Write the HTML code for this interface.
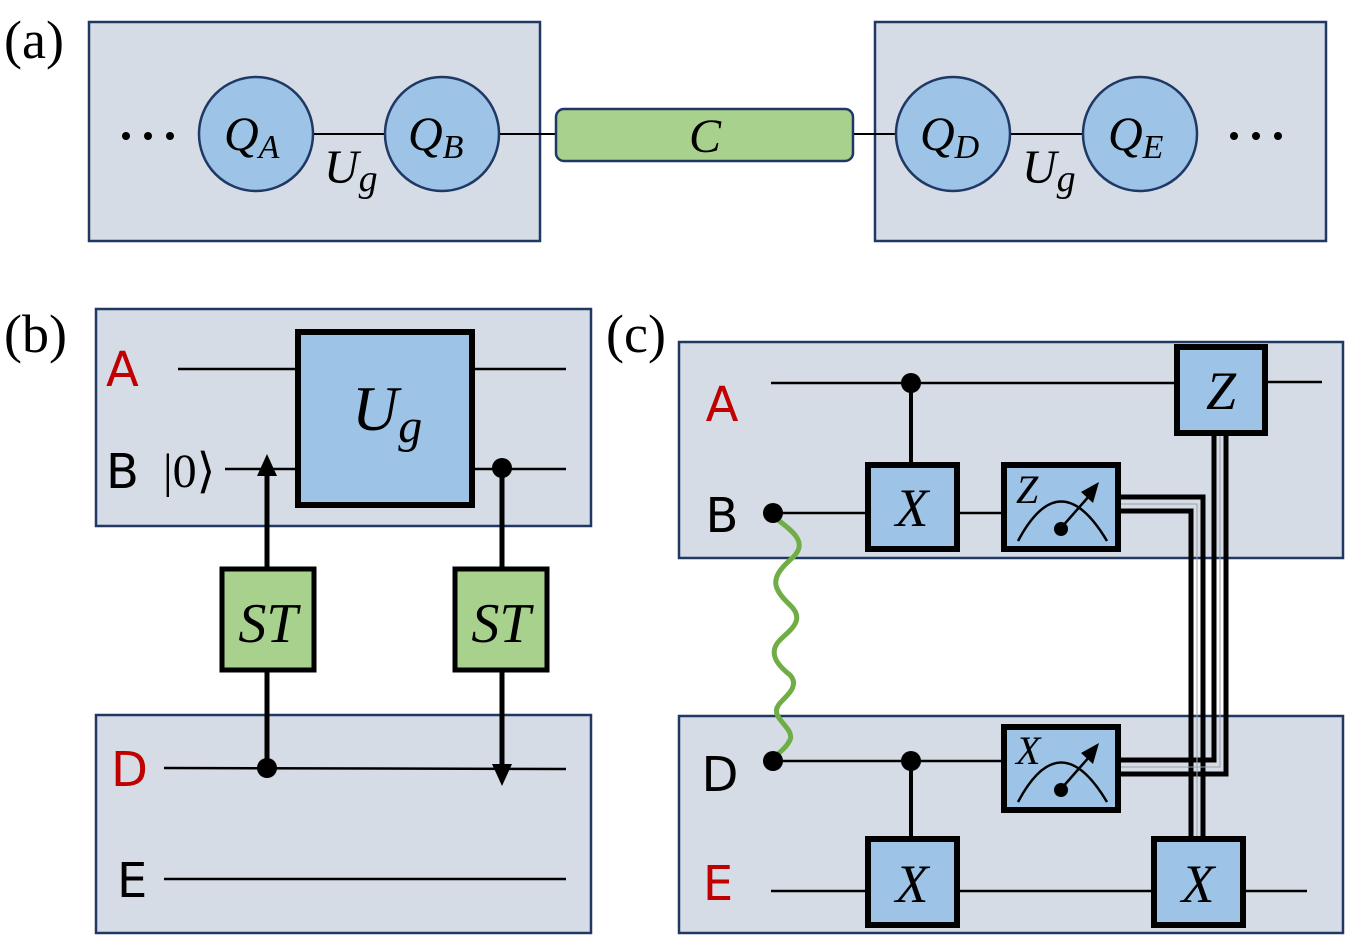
<!DOCTYPE html>
<html><head><meta charset="utf-8"><style>
html,body{margin:0;padding:0;background:#fff}
svg{display:block}
.m{font-family:"Liberation Serif",serif;font-style:italic}
.s{font-family:"DejaVu Sans","Liberation Sans",sans-serif}
</style></head><body>
<svg width="1353" height="944" viewBox="0 0 1353 944" xmlns="http://www.w3.org/2000/svg">
<g fill="#d6dce5" stroke="#1f3864" stroke-width="2.5">
<rect x="89" y="22" width="451" height="219"/>
<rect x="875" y="22" width="451" height="219"/>
<rect x="96" y="309" width="495" height="217"/>
<rect x="96" y="715" width="495" height="218"/>
<rect x="679" y="342" width="664" height="216"/>
<rect x="679" y="716" width="664" height="217"/>
</g>
<g font-family="Liberation Serif,serif" font-size="54">
<text x="4" y="58">(a)</text>
<text x="4" y="352">(b)</text>
<text x="606" y="352">(c)</text>
</g>
<!-- (a) -->
<g stroke="#000" stroke-width="2">
<line x1="313" y1="134" x2="385" y2="134"/>
<line x1="499" y1="134" x2="556" y2="134"/>
<line x1="853" y1="134" x2="897" y2="134"/>
<line x1="1010" y1="134" x2="1083" y2="134"/>
</g>
<rect x="556" y="109" width="297" height="52" rx="8" fill="#a9d18e" stroke="#1f3864" stroke-width="2.5"/>
<text x="705" y="152" class="m" font-size="48" text-anchor="middle">C</text>
<g fill="#9dc3e6" stroke="#1f3864" stroke-width="2.5">
<circle cx="256" cy="134" r="57"/><circle cx="442" cy="134" r="57"/>
<circle cx="953" cy="134" r="57"/><circle cx="1140" cy="134" r="57"/>
</g>
<g class="m" font-size="48">
<text x="224" y="150">Q<tspan font-size="34" dy="8">A</tspan></text>
<text x="408" y="150">Q<tspan font-size="34" dy="8">B</tspan></text>
<text x="920" y="150">Q<tspan font-size="34" dy="8">D</tspan></text>
<text x="1108" y="150">Q<tspan font-size="34" dy="8">E</tspan></text>
<text x="324" y="183">U<tspan font-size="38" dy="8">g</tspan></text>
<text x="1022" y="183">U<tspan font-size="38" dy="8">g</tspan></text>
</g>
<g fill="#000"><circle cx="126" cy="136" r="4"/><circle cx="148" cy="136" r="4"/><circle cx="170" cy="136" r="4"/>
<circle cx="1234" cy="136" r="4"/><circle cx="1256" cy="136" r="4"/><circle cx="1278" cy="136" r="4"/></g>
<!-- (b) -->
<g stroke="#000" stroke-width="2.5" fill="none">
<line x1="178" y1="369" x2="298" y2="369"/><line x1="472" y1="369" x2="566" y2="369"/>
<line x1="225" y1="469" x2="298" y2="469"/><line x1="472" y1="469" x2="566" y2="469"/>
<line x1="164" y1="768" x2="566" y2="769"/>
<line x1="164" y1="879" x2="566" y2="879"/>
</g>
<rect x="298" y="332" width="174" height="173" fill="#9dc3e6" stroke="#000" stroke-width="6"/>
<text x="352" y="430" class="m" font-size="64">U<tspan font-size="48" dy="12">g</tspan></text>
<text x="106" y="386" class="s" font-size="48" fill="#c00000">A</text>
<text x="106" y="488" class="s" font-size="48">B</text>
<text x="163" y="487" font-family="Liberation Serif,serif" font-size="48">|0⟩</text>
<g stroke="#000" stroke-width="5">
<line x1="267" y1="569" x2="267" y2="470"/>
<line x1="502" y1="468" x2="502" y2="569"/>
<line x1="267" y1="670" x2="267" y2="768"/>
<line x1="502" y1="670" x2="502" y2="770"/>
</g>
<polygon points="267,454 257,476 277,476" fill="#000"/>
<polygon points="502,786 492,764 512,764" fill="#000"/>
<circle cx="502" cy="468" r="10" fill="#000"/>
<circle cx="267" cy="768" r="10" fill="#000"/>
<g fill="#a9d18e" stroke="#000" stroke-width="5">
<rect x="222" y="569" width="92" height="101"/><rect x="455" y="569" width="92" height="101"/>
</g>
<text x="268" y="642" class="m" font-size="56" text-anchor="middle">ST</text>
<text x="501" y="642" class="m" font-size="56" text-anchor="middle">ST</text>
<text x="111" y="786" class="s" font-size="48" fill="#c00000">D</text>
<text x="117" y="897" class="s" font-size="48">E</text>
<!-- (c) -->
<g stroke="#000" stroke-width="2.5">
<line x1="771" y1="383" x2="1177" y2="383"/><line x1="1265" y1="382" x2="1322" y2="382"/>
<line x1="773" y1="513" x2="868" y2="513"/><line x1="957" y1="513" x2="1004" y2="513"/>
<line x1="773" y1="761" x2="1004" y2="761"/>
<line x1="771" y1="891" x2="868" y2="891"/><line x1="957" y1="891" x2="1154" y2="891"/><line x1="1243" y1="891" x2="1307" y2="891"/>
</g>
<g stroke="#000" stroke-width="4">
<line x1="911" y1="383" x2="911" y2="465"/>
<line x1="911" y1="761" x2="911" y2="839"/>
</g>
<path d="M773,516 C790,530 812,542 790,560 C770,578 772,588 790,605 C806,620 790,630 780,640 C768,652 776,664 790,675 C802,688 780,700 778,706 C770,718 795,728 790,740 C786,748 780,752 773,758" fill="none" stroke="#70ad47" stroke-width="5"/>
<circle cx="773" cy="513" r="10" fill="#000"/><circle cx="773" cy="761" r="10" fill="#000"/>
<circle cx="911" cy="383" r="10" fill="#000"/><circle cx="911" cy="761" r="10" fill="#000"/>
<text x="722" y="421" class="s" font-size="48" fill="#c00000" text-anchor="middle">A</text>
<text x="722" y="532" class="s" font-size="48" text-anchor="middle">B</text>
<text x="720" y="791" class="s" font-size="48" text-anchor="middle">D</text>
<text x="718" y="900" class="s" font-size="48" fill="#c00000" text-anchor="middle">E</text>
<!-- classical double wires -->
<g fill="none" stroke="#000" stroke-width="5">
<path d="M1118,497 H1203 V839"/>
<path d="M1118,511 H1191 V839"/>
<path d="M1118,760 H1214 V433"/>
<path d="M1118,774 H1226 V433"/>
</g>
<g fill="none" stroke="#9aa0a8" stroke-width="1">
<path d="M1118,504 H1197 V839"/>
<path d="M1118,767 H1220 V433"/>
</g>
<g fill="#9dc3e6" stroke="#000" stroke-width="6">
<rect x="1177" y="347" width="88" height="86"/>
<rect x="868" y="465" width="89" height="84"/>
<rect x="1004" y="465" width="114" height="84"/>
<rect x="1004" y="727" width="114" height="83"/>
<rect x="868" y="839" width="89" height="86"/>
<rect x="1154" y="839" width="89" height="86"/>
</g>
<g class="m" font-size="54" text-anchor="middle">
<text x="1221" y="409">Z</text>
<text x="912" y="526">X</text>
<text x="912" y="902">X</text>
<text x="1198" y="902">X</text>
</g>
<g class="m" font-size="40">
<text x="1016" y="503">Z</text>
<text x="1016" y="764">X</text>
</g>
<g fill="none" stroke="#000" stroke-width="2.5">
<path d="M1018,541 Q1060,462 1107,541"/>
<path d="M1018,802 Q1060,723 1107,802"/>
<line x1="1061" y1="528" x2="1090" y2="495"/>
<line x1="1061" y1="789" x2="1090" y2="756"/>
</g>
<g fill="#000">
<circle cx="1061" cy="529" r="7"/><circle cx="1061" cy="790" r="7"/>
<polygon points="1099,482 1081,492 1093,503"/>
<polygon points="1099,743 1081,753 1093,764"/>
</g>
</svg>
</body></html>
